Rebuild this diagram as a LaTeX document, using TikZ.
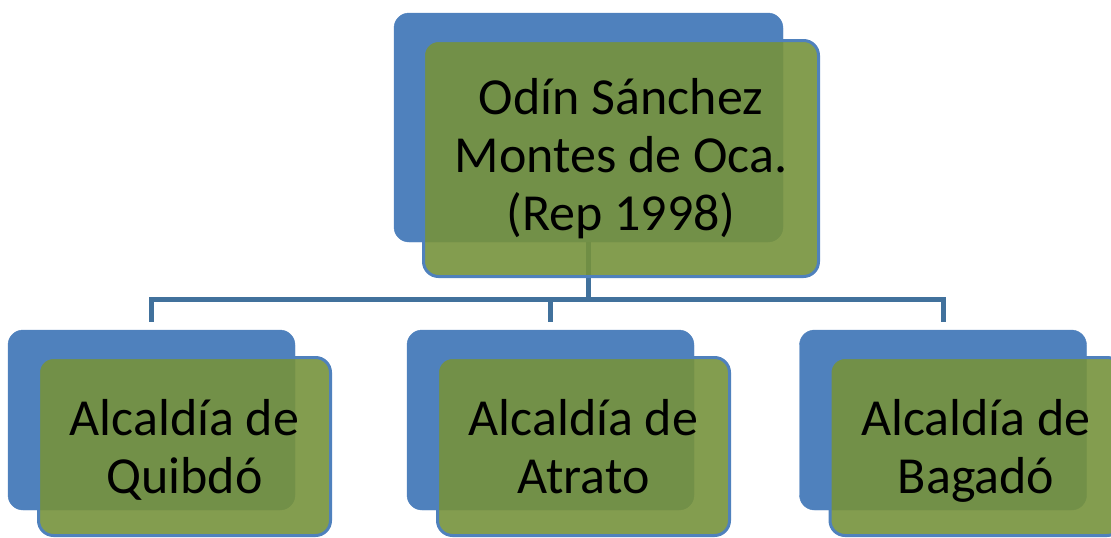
\documentclass[tikz,border=0pt]{standalone}
\usepackage{fontspec}
\setmainfont{Carlito}
\usetikzlibrary{positioning}
\definecolor{OrgBlue}{HTML}{4F81BD}
\definecolor{OrgGreen}{HTML}{76923C}
\definecolor{OrgLine}{HTML}{41719C}

\begin{document}
\begin{tikzpicture}[x=1pt,y=-1pt,
  back/.style={fill=OrgBlue,draw=OrgBlue,rounded corners=15pt,minimum width=287pt,minimum height=180pt,inner sep=0pt},
  front/.style={fill=OrgGreen,fill opacity=0.9,text opacity=1,draw=OrgBlue,line width=3pt,rounded corners=15pt,align=center,minimum width=292pt,minimum height=178pt,inner sep=0pt,text height=93pt,text depth=0pt,font=\fontsize{52}{58}\selectfont},
  link/.style={draw=OrgLine,line width=5pt}]
  \clip (0,0) rectangle (1111,538);
  % back cards
  \node[back,minimum width=389pt,minimum height=229pt] (odinb) at (588.5,127.5) {};
  \node[back] (quibdob) at (151.5,420) {};
  \node[back] (atratob) at (550.5,420) {};
  \node[back] (bagadob) at (943,420) {};
  % connectors
  \coordinate (bus) at (588.5,299);
  \draw[link] (odinb.south) -- (bus);
  \draw[link,shorten >=8pt] (bus) -| (quibdob.north);
  \draw[link,shorten >=8pt] (bus) -| (atratob.north);
  \draw[link,shorten >=8pt] (bus) -| (bagadob.north);
  % front cards
  \node[front,minimum width=395pt,minimum height=236pt,text height=143pt] (odin) at ([shift={(32.5,31)}]odinb) {Odín Sánchez\\Montes de Oca.\\(Rep 1998)};
  \node[front] (quibdo) at ([shift={(33,26.5)}]quibdob) {Alcaldía de\\Quibdó};
  \node[front] (atrato) at ([shift={(33,26.5)}]atratob) {Alcaldía de\\Atrato};
  \node[front] (bagado) at ([shift={(33,26.5)}]bagadob) {Alcaldía de\\Bagadó};
\end{tikzpicture}
\end{document}
